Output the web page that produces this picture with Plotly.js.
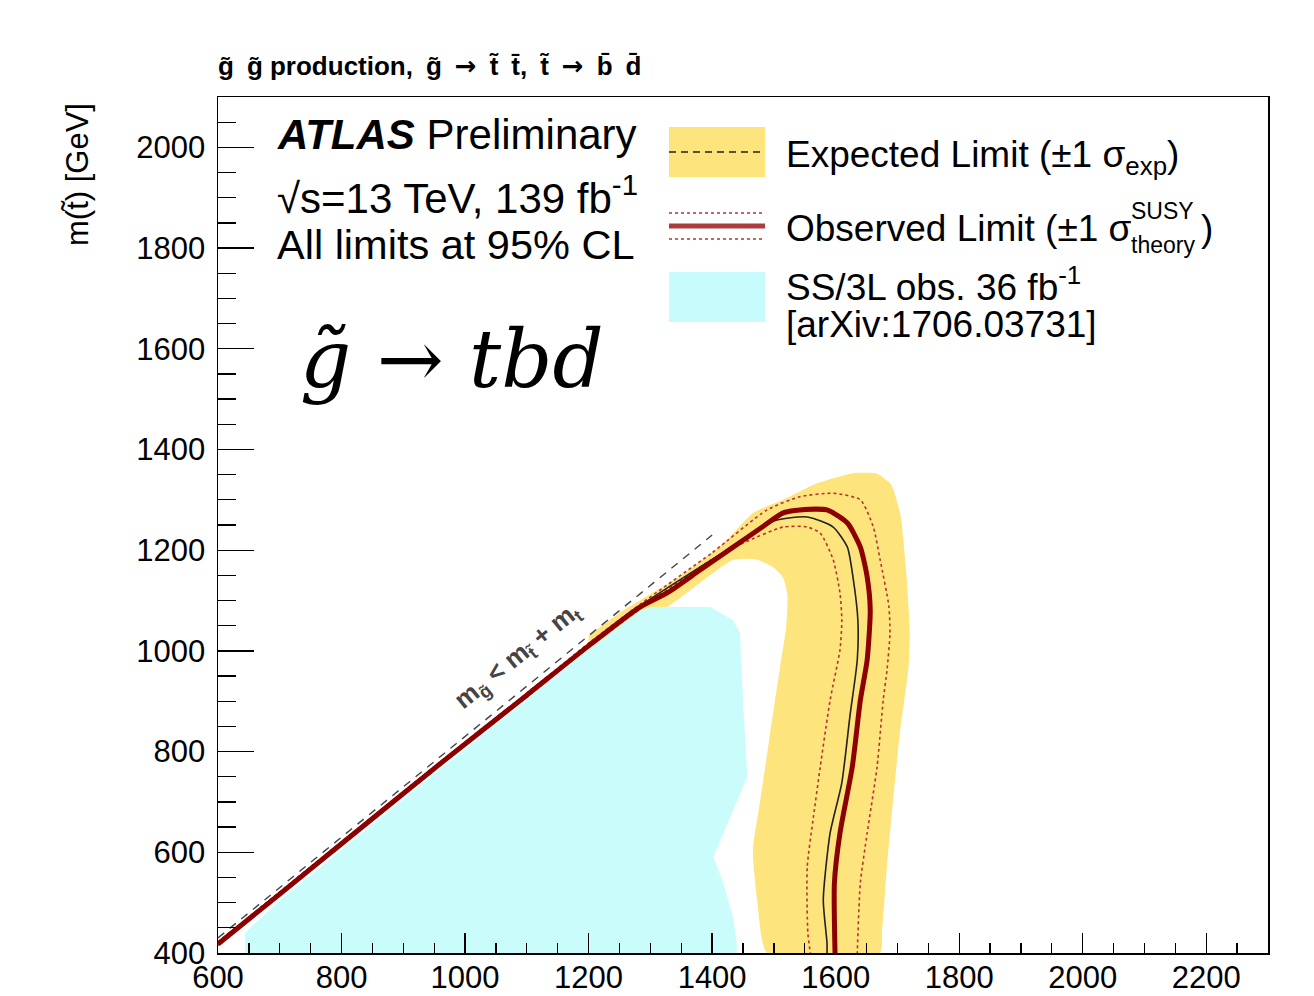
<!DOCTYPE html>
<html>
<head>
<meta charset="utf-8">
<script src="https://cdn.plot.ly/plotly-3.0.1.min.js"></script>
<style>
html,body{margin:0;padding:0;background:#fff;}
#plot{width:1314px;height:996px;}
</style>
</head>
<body>
<div id="plot"></div>
<script>
// ---- data (m(gluino) vs m(stop), GeV) ----
const obsX = [600, 700, 800, 964, 1100, 1200, 1283, 1327, 1380, 1434, 1480, 1515, 1542, 1586, 1619, 1640, 1651, 1656, 1651, 1640, 1627, 1607, 1598, 1599];
const obsY = [418, 517, 617, 780, 912, 1010, 1087, 1115, 1160, 1206, 1245, 1274, 1280, 1280, 1254, 1206, 1147, 1081, 982, 902, 770, 638, 539, 400];

const expX = [600, 800, 964, 1100, 1200, 1283, 1434, 1500, 1554, 1596, 1619, 1628, 1636, 1635, 1623, 1610, 1591, 1580, 1586, 1586];
const expY = [421, 620, 783, 915, 1013, 1089, 1208, 1258, 1266, 1246, 1206, 1147, 1061, 982, 869, 738, 638, 505, 420, 400];

const thUpX = [600, 800, 964, 1100, 1200, 1283, 1400, 1489, 1542, 1596, 1640, 1661, 1672, 1686, 1688, 1683, 1677, 1667, 1651, 1640, 1635];
const thUpY = [422, 621, 784, 916, 1015, 1092, 1195, 1280, 1306, 1313, 1300, 1246, 1181, 1090, 1036, 960, 902, 769, 638, 539, 400];

const thDnX = [600, 800, 964, 1100, 1200, 1283, 1400, 1450, 1515, 1554, 1575, 1596, 1607, 1610, 1607, 1591, 1575, 1564, 1554, 1555, 1559];
const thDnY = [415, 614, 777, 909, 1007, 1083, 1182, 1214, 1246, 1246, 1234, 1181, 1115, 1060, 1002, 902, 769, 670, 571, 440, 400];

const bandX = [1200, 1250, 1350, 1420, 1466, 1515, 1570, 1628, 1667, 1690, 1705, 1714, 1720, 1718, 1704, 1693, 1683, 1675, 1672,
               1489, 1473, 1466, 1478, 1494, 1510, 1520, 1522, 1515, 1500, 1473, 1434, 1380, 1327, 1250, 1200];
const bandY = [1030, 1075, 1150, 1215, 1274, 1300, 1333, 1353, 1352, 1330, 1270, 1160, 1040, 968, 837, 704, 571, 440, 400,
               400, 505, 605, 704, 837, 968, 1048, 1110, 1145, 1165, 1181, 1181, 1135, 1087, 1040, 1003];

const ssX = [644, 644, 700, 800, 964, 1100, 1200, 1283, 1300, 1397, 1434, 1445, 1450, 1457, 1402, 1418, 1434, 1440, 1440];
const ssY = [400, 440, 505, 605, 770, 903, 1003, 1080, 1087, 1087, 1061, 1036, 902, 750, 591, 539, 471, 420, 400];

const kinX = [600, 1400];
const kinY = [430, 1230];

const xTickVals = [600, 800, 1000, 1200, 1400, 1600, 1800, 2000, 2200];
const yTickVals = [400, 600, 800, 1000, 1200, 1400, 1600, 1800, 2000];

// ---- colours ----
const YELLOW = 'rgb(253,228,124)';
const CYAN = 'rgb(200,252,252)';
const DARKRED = 'rgb(140,0,0)';
const DOTRED = 'rgb(185,50,50)';
const LEGRED = 'rgb(170,62,62)';
const FONT = 'Liberation Sans, Arial, Helvetica, sans-serif';

const traces = [
  {x: bandX, y: bandY, type: 'scatter', mode: 'lines', fill: 'toself', fillcolor: YELLOW,
   line: {width: 0, color: YELLOW, shape: 'spline', smoothing: 0.5}, hoverinfo: 'skip', showlegend: false},
  {x: ssX, y: ssY, type: 'scatter', mode: 'lines', fill: 'toself', fillcolor: CYAN,
   line: {width: 0, color: CYAN}, opacity: 0.95, hoverinfo: 'skip', showlegend: false},
  {x: thUpX, y: thUpY, type: 'scatter', mode: 'lines', line: {color: DOTRED, width: 1.6, dash: 'dot', shape: 'spline', smoothing: 0.6},
   hoverinfo: 'skip', showlegend: false},
  {x: thDnX, y: thDnY, type: 'scatter', mode: 'lines', line: {color: DOTRED, width: 1.6, dash: 'dot', shape: 'spline', smoothing: 0.6},
   hoverinfo: 'skip', showlegend: false},
  {x: expX, y: expY, type: 'scatter', mode: 'lines', line: {color: '#222', width: 1.6, shape: 'spline', smoothing: 0.6},
   hoverinfo: 'skip', showlegend: false},
  {x: obsX, y: obsY, type: 'scatter', mode: 'lines', line: {color: DARKRED, width: 5, shape: 'spline', smoothing: 0.6},
   hoverinfo: 'skip', showlegend: false},
  {x: kinX, y: kinY, type: 'scatter', mode: 'lines', line: {color: '#444', width: 1.4, dash: '8px,7px'},
   hoverinfo: 'skip', showlegend: false}
];

const P = (px) => (px - 218) / 1050;   // pixel -> paper x
const Q = (py) => (953 - py) / 856;    // pixel -> paper y

const ann = (text, px, py, size, opts) => Object.assign({
  text: text, xref: 'paper', yref: 'paper', x: P(px), y: Q(py), xanchor: 'left', yanchor: 'middle',
  showarrow: false, font: {family: FONT, size: size, color: '#000'}
}, opts || {});

const ARROW = '<span style="font-family:DejaVu Sans">\u2192</span>';
const SP = '\u2002';

const annotations = [
  ann('<b>g\u0303' + SP + 'g\u0303 production,' + SP + 'g\u0303' + SP + ARROW + SP + 't\u0303' + SP + 't\u0304,' + SP + 't\u0303' + SP + ARROW + SP + 'b\u0304' + SP + 'd\u0304</b>', 216, 66, 26),
  ann('<b><i>ATLAS</i></b> Preliminary', 275, 135, 42),
  ann('\u221As=13 TeV, 139 fb<sup>-1</sup>', 275, 195, 42),
  ann('All limits at 95% CL', 275, 245, 41.5),
  ann('<i>g\u0303</i> \u2192 <i>tbd</i>', 298, 360, 80, {font: {family: 'DejaVu Serif, Liberation Serif, serif', size: 80, color: '#000'}}),
  ann('Expected Limit (\u00B11 \u03C3<sub>exp</sub>)', 784, 157, 37),
  ann('Observed Limit (\u00B11 \u03C3', 784, 228, 37),
  ann('SUSY', 1129, 211, 23),
  ann('theory', 1129, 245, 23),
  ann(')', 1199, 228, 37),
  ann('SS/3L obs. 36 fb<sup>-1</sup>', 784, 284, 37),
  ann('[arXiv:1706.03731]', 784, 324, 37),
  ann('m(t\u0303) [GeV]', 77, 175, 31, {textangle: -90, xanchor: 'center', yanchor: 'middle'}),
  {text: '<b>m<sub>g\u0303</sub> < m<sub>t\u0303</sub> + m<sub>t</sub></b>', xref: 'x', yref: 'y', x: 1085, y: 988,
   showarrow: false, textangle: -39, font: {family: FONT, size: 26, color: '#444'}, xanchor: 'center', yanchor: 'middle'}
];

const shapes = [
  {type: 'rect', xref: 'paper', yref: 'paper', x0: P(669), x1: P(765), y0: Q(177), y1: Q(127), fillcolor: YELLOW, line: {width: 0}},
  {type: 'line', xref: 'paper', yref: 'paper', x0: P(669), x1: P(765), y0: Q(152), y1: Q(152), line: {color: '#222', width: 1.5, dash: '7px,5px'}},
  {type: 'line', xref: 'paper', yref: 'paper', x0: P(669), x1: P(765), y0: Q(213), y1: Q(213), line: {color: DOTRED, width: 1.5, dash: 'dot'}},
  {type: 'line', xref: 'paper', yref: 'paper', x0: P(669), x1: P(765), y0: Q(226), y1: Q(226), line: {color: LEGRED, width: 5}},
  {type: 'line', xref: 'paper', yref: 'paper', x0: P(669), x1: P(765), y0: Q(239), y1: Q(239), line: {color: DOTRED, width: 1.5, dash: 'dot'}},
  {type: 'rect', xref: 'paper', yref: 'paper', x0: P(669), x1: P(765), y0: Q(322), y1: Q(272), fillcolor: CYAN, line: {width: 0}}
];

const layout = {
  width: 1314, height: 996,
  margin: {l: 218, r: 46, t: 97, b: 43},
  paper_bgcolor: '#fff', plot_bgcolor: '#fff',
  showlegend: false,
  font: {family: FONT, color: '#000'},
  xaxis: {
    range: [600, 2300], showgrid: false, zeroline: false,
    showline: true, linecolor: '#000', linewidth: 1.5, mirror: true,
    ticks: 'inside', ticklen: 20, tickwidth: 1.3, tickcolor: '#000',
    tickvals: xTickVals, ticktext: xTickVals.map(String),
    tickfont: {family: FONT, size: 31, color: '#000'}, ticklabelstandoff: -4,
    minor: {ticks: 'inside', ticklen: 10, tickwidth: 1.3, tickcolor: '#000', dtick: 50, tick0: 600, showgrid: false}
  },
  yaxis: {
    range: [400, 2100], showgrid: false, zeroline: false,
    showline: true, linecolor: '#000', linewidth: 1.5, mirror: true,
    ticks: 'inside', ticklen: 36, tickwidth: 1.3, tickcolor: '#000',
    tickvals: yTickVals, ticktext: yTickVals.map(String),
    tickfont: {family: FONT, size: 31, color: '#000'}, ticklabelstandoff: 5,
    minor: {ticks: 'inside', ticklen: 18, tickwidth: 1.3, tickcolor: '#000', dtick: 50, tick0: 400, showgrid: false}
  },
  annotations: annotations,
  shapes: shapes
};

Plotly.newPlot('plot', traces, layout, {staticPlot: true, displayModeBar: false});
</script>
</body>
</html>
